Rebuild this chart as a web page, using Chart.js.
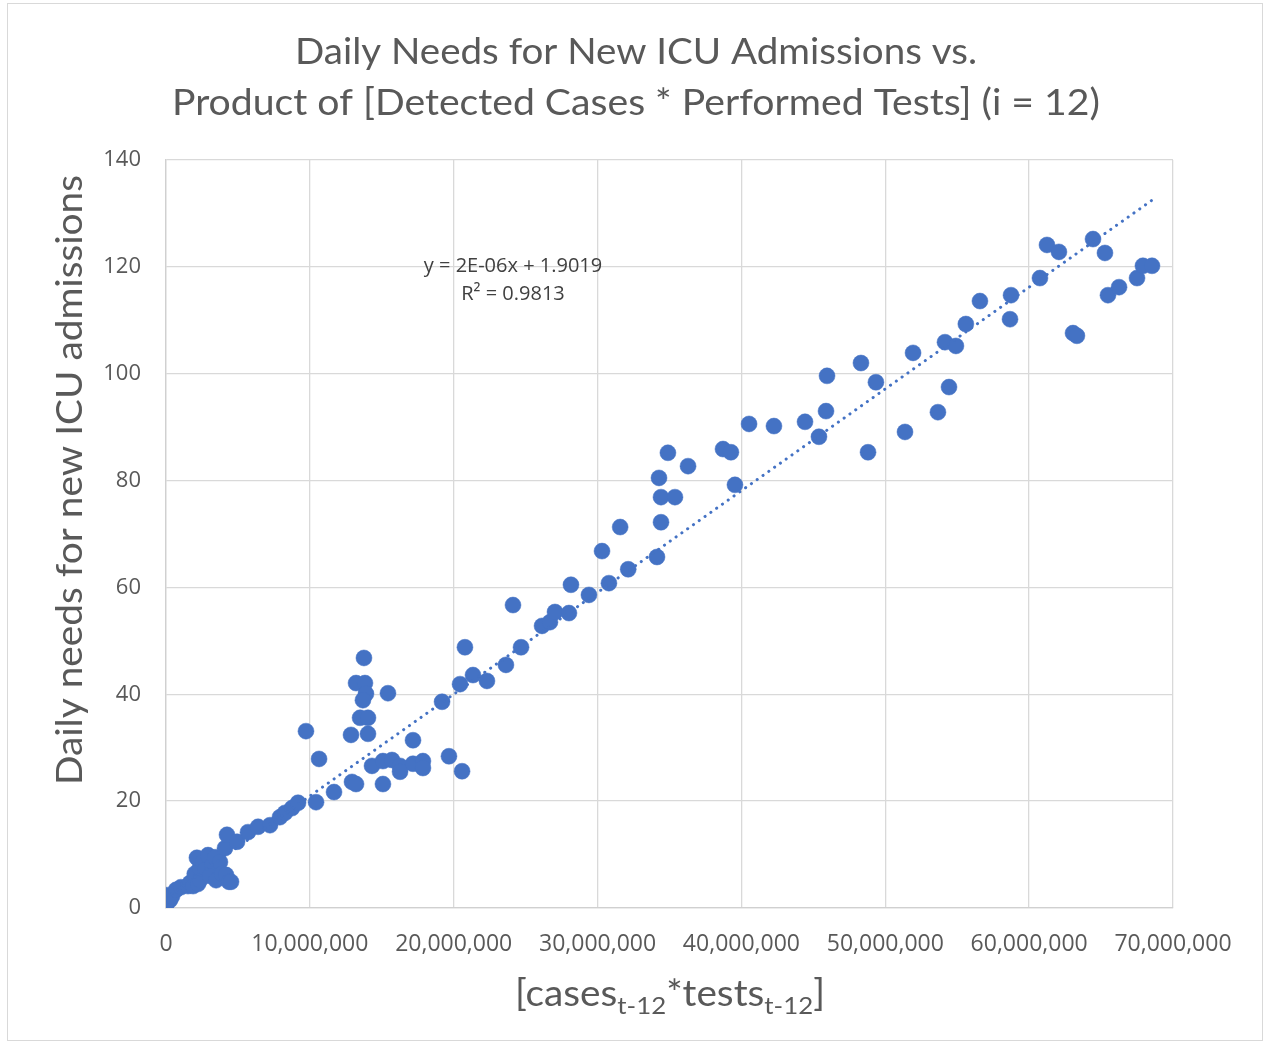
<!DOCTYPE html>
<html>
<head>
<meta charset="utf-8">
<title>Daily Needs for New ICU Admissions</title>
<script src="https://cdn.jsdelivr.net/npm/chart.js@4.4.0/dist/chart.umd.min.js"></script>
<style>
  html, body { margin: 0; padding: 0; background: #fff; }
  #frame { position: absolute; left: 7px; top: 3px; width: 1254px; height: 1036px; border: 1px solid #d9d9d9; }
  #wrap { position: absolute; left: 0; top: 0; width: 1266px; height: 1046px; }
</style>
</head>
<body>
<div id="frame"></div>
<div id="wrap"><canvas id="icuChart" width="1266" height="1046"></canvas></div>
<script>
// product of cases * tests (lag 12 days)
const product = [
  0, 0, 0.07e6, 0.07e6, 0.28e6, 0.42e6, 0.70e6, 1.04e6, 1.53e6, 1.67e6, 1.88e6, 2.0e6,
  2.22e6, 2.36e6, 2.36e6, 2.15e6, 2.57e6, 2.92e6, 2.71e6, 3.20e6, 3.41e6, 3.75e6, 3.06e6,
  3.48e6, 3.89e6, 4.17e6, 4.38e6, 4.52e6, 4.10e6, 4.24e6, 4.94e6, 5.70e6, 6.40e6, 7.23e6,
  7.92e6, 8.27e6, 8.76e6, 9.18e6,
  9.73e6, 10.43e6, 10.64e6, 11.68e6, 12.86e6, 12.93e6, 13.21e6, 13.21e6, 13.83e6, 13.76e6,
  13.90e6, 13.69e6, 13.49e6, 14.04e6, 14.04e6, 14.32e6, 15.43e6, 15.08e6, 15.08e6, 15.71e6,
  16.27e6, 16.27e6, 17.17e6, 17.17e6, 17.86e6, 17.86e6, 19.19e6, 19.67e6, 20.58e6, 20.44e6,
  20.78e6, 21.34e6, 22.31e6, 23.63e6, 24.12e6, 24.68e6, 26.14e6, 26.69e6, 27.04e6, 28.01e6,
  28.15e6, 29.40e6, 30.31e6, 30.79e6, 31.57e6, 32.13e6, 34.13e6, 34.27e6, 34.41e6, 34.41e6,
  34.89e6, 35.38e6, 36.29e6, 38.72e6, 39.27e6, 39.55e6, 40.53e6, 42.26e6, 44.42e6, 45.39e6,
  45.88e6, 45.95e6, 48.31e6, 48.80e6, 49.35e6, 51.37e6, 51.93e6, 53.66e6, 54.15e6, 54.43e6,
  54.91e6, 55.60e6, 56.58e6, 58.67e6, 58.74e6, 60.75e6, 61.24e6, 62.07e6, 63.05e6, 63.32e6,
  64.44e6, 65.27e6, 65.48e6, 66.25e6, 67.50e6, 67.91e6, 68.54e6
];
// daily needs for new ICU admissions
const icuNeeds = [
  0.4, 0.9, 1.7, 2.4, 1.5, 2.2, 3.4, 3.9, 4.1, 4.7, 4.1, 6.4,
  4.5, 5.2, 7.5, 9.4, 8.6, 9.9, 7.1, 7.9, 9.5, 8.6, 6.0,
  5.2, 6.4, 6.2, 4.9, 4.9, 11.2, 13.7, 12.4, 14.2, 15.2, 15.5,
  17.0, 17.8, 18.7, 19.7,
  33.1, 19.8, 27.9, 21.7, 32.4, 23.6, 23.2, 42.1, 42.1, 46.8,
  40.1, 38.9, 35.6, 35.6, 32.6, 26.6, 40.2, 23.2, 27.5, 27.7,
  26.6, 25.5, 31.4, 27.0, 27.5, 26.2, 38.6, 28.4, 25.6, 41.9,
  48.8, 43.6, 42.5, 45.5, 56.7, 48.8, 52.8, 53.5, 55.4, 55.2,
  60.5, 58.6, 66.8, 60.8, 71.3, 63.4, 65.7, 80.5, 76.9, 72.2,
  85.2, 76.9, 82.7, 85.9, 85.3, 79.2, 90.6, 90.2, 91.0, 88.2,
  93.0, 99.6, 102.0, 85.3, 98.4, 89.1, 103.9, 92.8, 105.9, 97.5,
  105.2, 109.3, 113.6, 110.2, 114.7, 117.9, 124.1, 122.8, 107.6, 107.1,
  125.2, 122.6, 114.7, 116.2, 117.9, 120.2, 120.2
];
const xTicks = [0, 10e6, 20e6, 30e6, 40e6, 50e6, 60e6, 70e6];
const yTicks = [0, 20, 40, 60, 80, 100, 120, 140];

// linear trendline as reported by Excel
const trendSlope = 1.905e-6;
const trendIntercept = 1.9019;
const trendText = ["y = 2E-06x + 1.9019", "R\u00b2 = 0.9813"];

const titleLines = ["Daily Needs for New ICU Admissions vs.", "Product of [Detected Cases * Performed Tests] (i = 12)"];
const yTitle = "Daily needs for new ICU admissions";

const blue = "#4472C4";
const grey = "#595959";

const points = product.map((x, i) => ({ x: x, y: icuNeeds[i] }));
const xMax = Math.max(...product);
const trendPts = [
  { x: 0, y: trendIntercept },
  { x: xMax, y: trendIntercept + trendSlope * xMax }
];

// draw text squeezed/stretched to a given width
function fitText(ctx, text, cx, cy, w, font) {
  ctx.save();
  ctx.font = font;
  const m = ctx.measureText(text).width;
  ctx.translate(cx, cy);
  ctx.scale(w / m, 1);
  ctx.textAlign = "center";
  ctx.textBaseline = "middle";
  ctx.fillText(text, 0, 0);
  ctx.restore();
}

const textPlugin = {
  id: "texts",
  afterDraw(chart) {
    const ctx = chart.ctx;
    ctx.fillStyle = grey;
    const tf = "36px Lato";
    fitText(ctx, titleLines[0], 636, 52, 682, tf);
    fitText(ctx, titleLines[1], 636, 103, 928, tf);

    // y axis title
    ctx.save();
    ctx.translate(70, 480);
    ctx.rotate(-Math.PI / 2);
    fitText(ctx, yTitle, 0, 0, 610, tf);
    ctx.restore();

    // x axis title with subscripts
    const parts = [["[cases", 0], ["t-12", 1], ["*tests", 0], ["t-12", 1], ["]", 0]];
    const big = "36px Lato", small = "24px Lato";
    let total = 0;
    parts.forEach(p => { ctx.font = p[1] ? small : big; total += ctx.measureText(p[0]).width; });
    ctx.save();
    const sx = 310 / total;
    ctx.translate(670 - 155, 994);
    ctx.scale(sx, 1);
    ctx.textBaseline = "middle";
    ctx.textAlign = "left";
    let x = 0;
    parts.forEach(p => {
      ctx.font = p[1] ? small : big;
      ctx.fillText(p[0], x, p[1] ? 12 : 0);
      x += ctx.measureText(p[0]).width;
    });
    ctx.restore();

    // trendline label
    ctx.fillStyle = "#404040";
    ctx.font = "20px 'Open Sans'";
    ctx.textAlign = "center";
    ctx.textBaseline = "middle";
    ctx.fillText(trendText[0], 513, 266);
    ctx.fillText(trendText[1], 513, 294);
  }
};

new Chart(document.getElementById("icuChart"), {
  type: "scatter",
  data: {
    datasets: [
      {
        type: "line",
        label: "Linear trend",
        data: trendPts,
        borderColor: blue,
        borderWidth: 3,
        borderDash: [0.1, 7],
        borderCapStyle: "round",
        pointRadius: 0,
        fill: false
      },
      {
        label: "ICU needs",
        data: points,
        backgroundColor: blue,
        borderColor: blue,
        borderWidth: 0.5,
        pointRadius: 8,
        pointHoverRadius: 8
      }
    ]
  },
  options: {
    responsive: false,
    devicePixelRatio: 1,
    animation: false,
    layout: { padding: { top: 160, right: 93, left: 0, bottom: 0 } },
    plugins: {
      legend: { display: false },
      title: { display: false },
      tooltip: { enabled: false }
    },
    scales: {
      x: {
        type: "linear",
        min: 0,
        max: 70e6,
        afterBuildTicks: s => { s.ticks = xTicks.map(v => ({ value: v })); },
        afterFit: s => { s.height = 138; },
        grid: { color: "#d9d9d9", lineWidth: 1.3, drawTicks: false },
        border: { color: "#d0d0d0", width: 1.3 },
        ticks: {
          padding: 23,
          color: grey,
          font: { family: "Open Sans", size: 23 },
          maxRotation: 0,
          callback: v => v.toLocaleString("en-US")
        }
      },
      y: {
        min: 0,
        max: 140,
        afterBuildTicks: s => { s.ticks = yTicks.map(v => ({ value: v })); },
        afterFit: s => { s.width = 166; },
        grid: { color: "#d9d9d9", lineWidth: 1.3, drawTicks: false },
        border: { color: "#d0d0d0", width: 1.3 },
        ticks: {
          padding: 25,
          color: grey,
          font: { family: "Open Sans", size: 22 }
        }
      }
    }
  },
  plugins: [textPlugin]
});
</script>
</body>
</html>
